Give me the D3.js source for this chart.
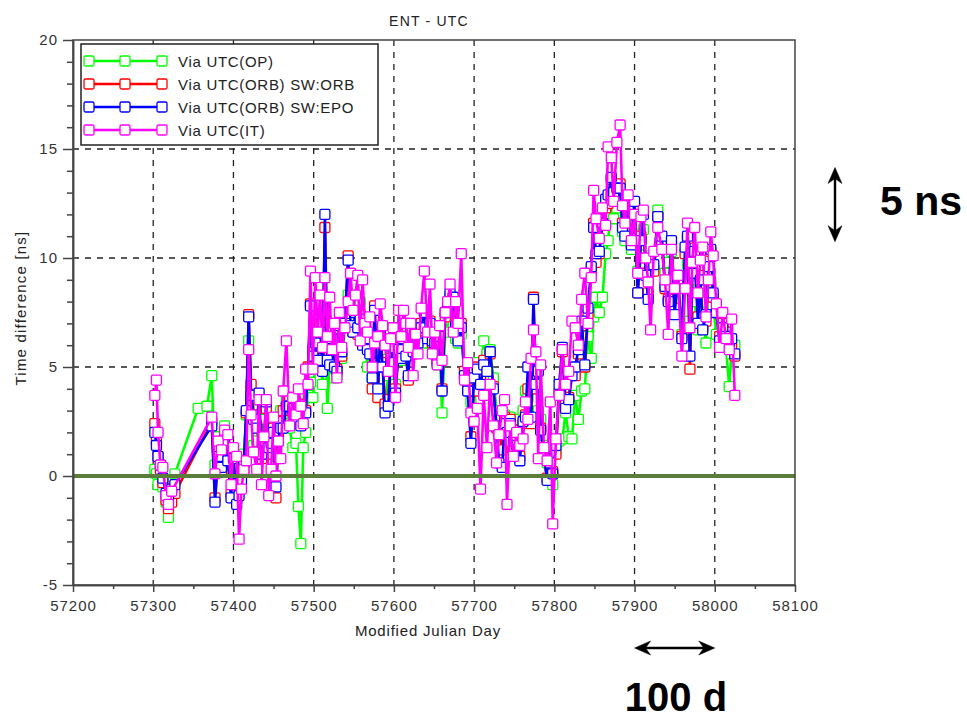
<!DOCTYPE html>
<html>
<head>
<meta charset="utf-8">
<script src="https://cdn.jsdelivr.net/npm/d3@7"></script>
<style>
  body { margin: 0; background: #fff; }
  text { font-family: "Liberation Sans", Arial, sans-serif; }
</style>
</head>
<body>
<script>
// Modified Julian Day of each measurement (shared by all four links)
const mjd = [
  57302, 57304, 57306, 57309, 57312, 57316, 57319, 57323, 57327, 57356,
  57367, 57373, 57377, 57381, 57385, 57389, 57393, 57397, 57400, 57404,
  57407, 57410, 57413, 57416, 57419, 57422, 57425, 57429, 57432, 57435,
  57438, 57441, 57444, 57447, 57450, 57453, 57456, 57459, 57462, 57466,
  57470, 57474, 57478, 57481, 57484, 57487, 57490, 57493, 57496, 57499,
  57502, 57505, 57508, 57511, 57514, 57517, 57520, 57523, 57526, 57529,
  57532, 57535, 57539, 57543, 57546, 57549, 57552, 57555, 57558, 57561,
  57564, 57567, 57570, 57573, 57576, 57580, 57583, 57586, 57589, 57593,
  57596, 57599, 57602, 57606, 57609, 57612, 57615, 57618, 57621, 57624,
  57627, 57630, 57634, 57638, 57642, 57645, 57648, 57651, 57654, 57657,
  57660, 57664, 57667, 57670, 57674, 57677, 57680, 57684, 57688, 57692,
  57696, 57700, 57704, 57708, 57712, 57716, 57720, 57724, 57728, 57731,
  57735, 57738, 57741, 57745, 57749, 57753, 57757, 57761, 57764, 57767,
  57771, 57774, 57777, 57780, 57783, 57787, 57791, 57795, 57798, 57802,
  57806, 57810, 57814, 57818, 57822, 57826, 57830, 57834, 57838, 57842,
  57846, 57849, 57852, 57856, 57860, 57864, 57867, 57871, 57874, 57878,
  57882, 57885, 57888, 57892, 57896, 57900, 57904, 57908, 57911, 57914,
  57917, 57920, 57924, 57929, 57934, 57938, 57942, 57946, 57950, 57954,
  57959, 57963, 57966, 57969, 57972, 57975, 57979, 57982, 57985, 57989,
  57992, 57995, 57998, 58002, 58006, 58010, 58014, 58018, 58021, 58025
];

// Time difference [ns], one value per mjd (null = no point)
const viaOP = [
  0.3, 0.1, -0.4, 0.5, -0.5, -1.2, -1.9, -0.8, 0.1, 3.1,
  3.2, 4.6, 0.5, 1.8, 1.0, 2.3, 0.6, 0.3, 1.2, -0.5,
  0.4, 0.3, 1.0, 2.8, 6.2, 3.6, 1.4, 1.6, 3.1, 2.6,
  1.4, 3.3, 2.2, 1.5, 1.8, 0.9, 2.6, 3.0, 2.4, 3.5,
  2.2, 1.3, 1.5, -1.4, -3.1, 1.3, 2.0, 3.7, 4.3, 3.6,
  5.0, 6.2, 5.6, 4.2, 7.5, 3.1, 5.2, 5.7, 4.5, 4.6,
  6.5, 5.4, 6.9, 8.3, 7.5, 6.8, 7.7, 7.2, 8.0, 6.3,
  6.6, 5.0, 5.7, 4.5, 5.2, 4.0, 5.8, 5.0, 3.2, 4.6,
  5.1, 5.6, 4.2, 5.7, 5.3, 6.0, 5.5, 5.8, 6.6, 5.9,
  6.5, 6.0, 6.6, 6.8, 6.1, 6.8, 6.0, 6.3, 5.1, 6.1,
  2.9, 6.6, 7.2, 7.6, 7.0, 6.3, 6.1, 6.5, 4.6, 4.2,
  3.4, 4.1, 5.2, 4.6, 6.2, 5.6, 5.8, 4.5, 3.0, 2.6,
  2.0, 2.8, 2.2, 2.7, 2.5, 2.6, 1.8, 3.0, 3.9, 3.6,
  2.6, 5.0, 4.5, 3.0, 2.6, 1.4, 0.6, 0.9, -0.4, 1.2,
  1.6, 1.7, 2.9, 1.8, 1.7, 3.7, 2.6, 3.9, 4.0, 6.4,
  5.4, 7.3, 8.2, 7.5, 8.2, 10.2, 10.8, 12.5, 11.8, 12.3,
  12.7, 11.2, 10.8, 11.5, 10.4, 11.1, 9.4, 10.6, 11.3, 9.6,
  9.0, 10.1, 9.5, 12.2, 10.6, 9.3, 9.8, 10.3, 8.7, 8.6,
  6.5, 8.8, 9.7, 7.1, 9.0, 8.0, 6.7, 8.6, 7.5, 6.1,
  8.4, 8.9, 7.8, 6.5, 6.0, 6.4, 5.9, 4.1, 5.6, 6.0
];

const viaORB_ORB = [
  2.4, 1.6, 0.9, 0.3, -0.3, -1.1, -1.5, -1.2, -0.8, null,
  null, 2.5, -1.0, 1.2, 0.2, 1.8, 0.7, -0.8, 0.9, -1.1,
  -0.6, 0.1, 0.3, 2.9, 7.4, 4.2, 2.8, 2.3, 3.5, 0.8,
  1.1, 3.1, 1.0, 1.6, 2.2, -1.0, 1.8, 2.5, 3.0, 3.2,
  3.6, 3.0, 2.6, 3.3, 2.4, 2.9, 3.0, 5.0, 7.9, 5.8,
  6.3, 5.4, 7.0, 5.0, 11.4, 5.5, 5.5, 6.3, 5.2, 4.9,
  7.1, 5.5, 7.3, 10.1, 7.2, 6.6, 7.6, 6.5, 7.4, 6.1,
  6.4, 6.2, 5.9, 4.0, 7.8, 3.6, 6.5, 5.2, 3.3, 3.5,
  5.4, 6.0, 4.0, 5.9, 5.6, 6.4, 5.5, 4.4, 6.7, 5.6,
  6.3, 6.2, 7.0, 7.6, 6.4, 7.1, 6.1, 6.0, 5.3, 6.5,
  4.0, 7.3, 7.6, 8.2, 7.8, 6.8, 6.3, 7.0, 4.8, 4.0,
  1.8, 3.9, 5.0, 4.4, 5.3, 4.9, 5.6, 4.1, 2.2, 2.2,
  1.2, 2.7, 2.0, 2.6, 2.1, 1.6, 0.9, 2.4, 2.8, 4.0,
  2.4, 8.2, 4.0, 5.0, 2.2, 0.9, -0.1, 0.4, 0.2, 1.0,
  3.8, 5.7, 3.5, 3.6, 4.8, 4.6, 5.6, 6.9, 5.0, 7.4,
  9.4, 11.6, 9.8, 10.2, 11.6, 12.3, 12.5, 13.6, 12.9, 13.1,
  13.4, 11.6, 11.2, 12.2, 10.9, 12.4, 8.4, 11.0, 12.1, 9.3,
  8.4, 9.9, 9.4, 11.9, 10.8, 8.6, 8.1, 10.6, 7.7, 9.0,
  6.4, 10.2, 10.9, 4.9, 9.5, 10.0, 7.3, 9.2, 6.8, 7.1,
  9.4, 10.3, 8.2, 7.5, 6.4, 7.0, 6.6, 6.2, 6.0, 5.5
];

const viaORB_EPO = [
  2.0, 1.4, 0.9, 0.5, -0.1, -0.8, -1.1, -0.6, -0.4, null,
  null, 2.3, -1.2, 0.9, 0.4, 1.6, 0.7, -1.0, 0.8, -1.3,
  -0.9, -0.2, 0.6, 3.0, 7.3, 3.7, 2.6, 2.2, 3.8, 1.0,
  1.6, 3.4, 1.3, 1.5, 2.0, -0.5, 1.6, 2.2, 2.2, 3.2,
  3.2, 3.1, 2.4, 3.0, 2.3, 2.9, 2.9, 4.9, 7.8, 5.5,
  6.1, 5.3, 6.6, 4.8, 12.0, 5.3, 5.1, 6.3, 5.0, 4.8,
  6.9, 5.7, 7.0, 9.9, 6.9, 6.6, 7.5, 6.8, 7.2, 6.0,
  6.3, 5.8, 5.6, 4.5, 7.6, 4.0, 6.4, 5.0, 2.9, 3.2,
  5.2, 5.9, 3.8, 5.8, 5.4, 6.3, 5.5, 4.6, 6.6, 5.7,
  6.0, 6.1, 6.8, 7.5, 6.3, 7.0, 6.2, 6.1, 5.2, 6.4,
  3.9, 7.5, 7.8, 8.4, 8.2, 6.9, 6.2, 6.8, 4.6, 3.9,
  1.5, 4.5, 4.9, 4.2, 5.1, 4.8, 5.7, 4.0, 2.3, 0.6,
  0.4, 2.4, 2.0, 2.4, 1.6, 1.4, 0.7, 2.5, 2.7, 5.0,
  2.7, 8.1, 4.2, 4.8, 2.1, 1.0, -0.2, 0.6, 0.1, 1.4,
  4.2, 5.9, 3.1, 3.5, 4.6, 5.0, 5.8, 7.1, 5.1, 7.7,
  9.6, 11.4, 10.2, 10.3, 11.6, 12.7, 12.9, 13.7, 13.0, 13.2,
  13.2, 11.4, 11.0, 12.4, 10.6, 12.6, 8.4, 10.8, 12.0, 9.2,
  8.1, 9.7, 9.7, 11.9, 11.0, 8.7, 8.0, 10.8, 7.4, 9.2,
  6.3, 10.5, 11.0, 5.5, 9.3, 10.3, 7.0, 9.0, 6.7, 7.4,
  9.6, 10.4, 8.4, 7.5, 6.2, 6.8, 6.4, 5.9, 6.3, 5.6
];

const viaIT = [
  3.7, 4.4, 2.0, 0.5, 0.4, -0.9, -1.3, -0.7, null, null,
  null, 2.7, 0.1, 1.6, 1.2, 2.1, 1.9, -0.4, 1.3, 0.9,
  -2.9, -0.6, 0.3, 0.7, 5.8, 2.8, 1.1, 0.3, 3.5, -0.4,
  1.8, 3.5, -0.9, 0.3, 2.7, 0.0, 1.6, 0.8, 3.9, 6.2,
  2.3, 3.6, 2.8, 4.0, 3.2, 2.4, 4.9, 4.2, 9.4, 4.9,
  9.1, 6.6, 8.3, 5.9, 9.1, 6.4, 8.2, 5.8, 7.0, 4.5,
  7.5, 5.9, 6.8, 8.0, 9.3, 7.6, 8.3, 9.2, 6.2, 9.0,
  7.0, 6.6, 7.3, 5.0, 6.1, 6.4, 7.9, 6.9, 6.0, 4.8,
  6.3, 6.8, 3.6, 7.6, 6.4, 7.6, 7.0, 5.9, 7.0, 4.6,
  6.5, 5.6, 7.7, 9.4, 6.6, 8.8, 5.6, 6.6, 5.1, 6.9,
  5.3, 7.5, 8.0, 8.8, 6.6, 8.0, 7.0, 10.2, 4.4, 5.2,
  2.9, 2.5, 3.1, -0.6, 3.7, 1.3, 4.2, 2.3, 0.6, 1.9,
  3.0, 3.5, -1.3, 2.3, 0.9, 2.0, 1.4, 1.7, 3.4, 2.6,
  5.4, 6.7, 5.7, 0.8, 5.1, 1.3, 0.7, 3.4, -2.2, 1.7,
  3.7, 5.8, 4.2, 4.8, 7.1, 6.8, 6.0, 8.1, 9.3, 7.0,
  9.1, 13.1, 11.8, 10.9, 12.3, 11.5, 15.1, 14.6, 12.6, 15.3,
  16.1, 12.4, 11.6, 12.9, 10.8, 12.0, 9.3, 11.9, 12.2, 10.0,
  8.9, 6.7, 10.3, 11.4, 10.4, 9.0, 6.5, 10.4, 8.6, 9.2,
  5.5, 8.6, 11.6, 6.8, 9.8, 11.4, 8.4, 9.9, 10.5, 7.3,
  9.0, 11.2, 10.1, 7.9, 5.9, 7.5, 6.3, 5.8, 7.2, 3.7
];

const seriesNames = ["Via UTC(OP)", "Via UTC(ORB) SW:ORB", "Via UTC(ORB) SW:EPO", "Via UTC(IT)"];
const seriesColors = ["#00ff00", "#ff0000", "#0000ff", "#ff00ff"];
const seriesValues = [viaOP, viaORB_ORB, viaORB_EPO, viaIT];

const xTicks = [57200, 57300, 57400, 57500, 57600, 57700, 57800, 57900, 58000, 58100];
const xMinor = [57250, 57350, 57450, 57550, 57650, 57750, 57850, 57950, 58050];
const yTicks = [-5, 0, 5, 10, 15, 20];
const yMinor = d3.range(-4, 20).filter(v => v % 5 !== 0);

const width = 967;
const height = 720;
const plot = { left: 73, right: 795, top: 40, bottom: 585 };

const x = d3.scaleLinear().domain([57200, 58100]).range([plot.left, plot.right]);
const y = d3.scaleLinear().domain([-5, 20]).range([plot.bottom, plot.top]);

const svg = d3.select("body").append("svg")
    .attr("width", width)
    .attr("height", height)
    .attr("viewBox", [0, 0, width, height]);

svg.append("defs").append("clipPath")
    .attr("id", "plotClip")
  .append("rect")
    .attr("x", plot.left)
    .attr("y", plot.top)
    .attr("width", plot.right - plot.left)
    .attr("height", plot.bottom - plot.top);

// Dashed grid at the major ticks
const grid = svg.append("g")
    .attr("stroke", "#222")
    .attr("stroke-width", 1.3)
    .attr("stroke-dasharray", "6,6");

grid.selectAll("line.gx")
  .data(xTicks.slice(1, -1))
  .join("line")
    .attr("x1", d => x(d)).attr("x2", d => x(d))
    .attr("y1", plot.top).attr("y2", plot.bottom);

grid.selectAll("line.gy")
  .data(yTicks.slice(1, -1))
  .join("line")
    .attr("x1", plot.left).attr("x2", plot.right)
    .attr("y1", d => y(d)).attr("y2", d => y(d));

// Series: line first, then square markers, drawn in legend order
const chart = svg.append("g").attr("clip-path", "url(#plotClip)");

const line = d3.line()
    .x(d => x(d.mjd))
    .y(d => y(d.v));

seriesValues.forEach((vals, i) => {
  const pts = mjd.map((m, j) => ({ mjd: m, v: vals[j] })).filter(d => d.v !== null);
  const g = chart.append("g");

  g.append("path")
      .datum(pts)
      .attr("fill", "none")
      .attr("stroke", seriesColors[i])
      .attr("stroke-width", 2.6)
      .attr("stroke-linejoin", "round")
      .attr("d", line);

  g.selectAll("rect")
    .data(pts)
    .join("rect")
      .attr("x", d => x(d.mjd) - 5)
      .attr("y", d => y(d.v) - 5)
      .attr("width", 10)
      .attr("height", 10)
      .attr("rx", 1.5)
      .attr("fill", "#fff")
      .attr("stroke", seriesColors[i])
      .attr("stroke-width", 1.3);
});

// Zero reference line
svg.append("line")
    .attr("x1", plot.left).attr("x2", plot.right)
    .attr("y1", y(0)).attr("y2", y(0))
    .attr("stroke", "#5a7d3a")
    .attr("stroke-width", 4);

// Frame
svg.append("rect")
    .attr("x", plot.left).attr("y", plot.top)
    .attr("width", plot.right - plot.left)
    .attr("height", plot.bottom - plot.top)
    .attr("fill", "none")
    .attr("stroke", "#444")
    .attr("stroke-width", 1.5);

// Axes (major and minor ticks)
function styleAxis(g) {
  g.select(".domain").attr("stroke", "#444").attr("stroke-width", 1.5);
  g.selectAll(".tick line").attr("stroke", "#444").attr("stroke-width", 1.5);
  g.selectAll(".tick text")
      .attr("fill", "#333")
      .attr("font-size", 15)
      .attr("letter-spacing", 1)
      .style("font-family", "'Liberation Sans', Arial, sans-serif");
}

svg.append("g")
    .attr("transform", `translate(0,${plot.bottom})`)
    .call(d3.axisBottom(x).tickValues(xTicks).tickFormat(d => String(d)).tickSize(7).tickPadding(8).tickSizeOuter(0))
    .call(styleAxis);

svg.append("g")
    .attr("transform", `translate(0,${plot.bottom})`)
    .call(d3.axisBottom(x).tickValues(xMinor).tickFormat("").tickSize(4).tickSizeOuter(0))
    .call(styleAxis);

svg.append("g")
    .attr("transform", `translate(${plot.left},0)`)
    .call(d3.axisLeft(y).tickValues(yTicks).tickFormat(d => String(d)).tickSize(10).tickPadding(5).tickSizeOuter(0))
    .call(styleAxis);

svg.append("g")
    .attr("transform", `translate(${plot.left},0)`)
    .call(d3.axisLeft(y).tickValues(yMinor).tickFormat("").tickSize(6).tickSizeOuter(0))
    .call(styleAxis);

// Title and axis labels
svg.append("text")
    .attr("x", 429).attr("y", 26)
    .attr("text-anchor", "middle")
    .attr("font-size", 14)
    .attr("letter-spacing", 1.2)
    .attr("fill", "#222")
    .text("ENT - UTC");

svg.append("text")
    .attr("x", 428).attr("y", 636)
    .attr("text-anchor", "middle")
    .attr("font-size", 15)
    .attr("letter-spacing", 0.8)
    .attr("fill", "#222")
    .text("Modified Julian Day");

svg.append("text")
    .attr("transform", "translate(26,308) rotate(-90)")
    .attr("text-anchor", "middle")
    .attr("font-size", 15)
    .attr("letter-spacing", 1.2)
    .attr("fill", "#222")
    .text("Time difference [ns]");

// Legend
const legend = svg.append("g");
legend.append("rect")
    .attr("x", 81).attr("y", 44)
    .attr("width", 297).attr("height", 101)
    .attr("fill", "#fff")
    .attr("stroke", "#222")
    .attr("stroke-width", 1.5);

seriesNames.forEach((name, i) => {
  const ly = 61 + i * 23;
  legend.append("line")
      .attr("x1", 89).attr("x2", 162)
      .attr("y1", ly).attr("y2", ly)
      .attr("stroke", seriesColors[i])
      .attr("stroke-width", 2.6);
  legend.selectAll(null)
    .data([89, 125, 162])
    .join("rect")
      .attr("x", d => d - 5).attr("y", ly - 5)
      .attr("width", 10).attr("height", 10)
      .attr("rx", 1.5)
      .attr("fill", "#fff")
      .attr("stroke", seriesColors[i])
      .attr("stroke-width", 1.3);
  legend.append("text")
      .attr("x", 178).attr("y", ly + 6)
      .attr("font-size", 15)
      .attr("letter-spacing", 0.7)
      .attr("fill", "#222")
      .text(name);
});

// Scale annotations: 5 ns and 100 d
function arrowHead(x0, y0, dx, dy) {
  // tip at (x0,y0), pointing in direction (dx,dy)
  const px = -dy, py = dx;
  const L = 16, W = 7, N = 11;
  return `M${x0},${y0}` +
    `L${x0 - dx * L + px * W},${y0 - dy * L + py * W}` +
    `L${x0 - dx * N},${y0 - dy * N}` +
    `L${x0 - dx * L - px * W},${y0 - dy * L - py * W}Z`;
}

const ann = svg.append("g").attr("fill", "#000").attr("stroke", "#000");

const vTop = y(14.15), vBot = y(10.75);
ann.append("line")
    .attr("x1", 835).attr("x2", 835)
    .attr("y1", vTop + 8).attr("y2", vBot - 8)
    .attr("stroke-width", 2.4);
ann.append("path").attr("d", arrowHead(835, vTop, 0, -1)).attr("stroke-width", 0.5);
ann.append("path").attr("d", arrowHead(835, vBot, 0, 1)).attr("stroke-width", 0.5);

const hY = 648;
ann.append("line")
    .attr("x1", x(57900) + 8).attr("x2", x(58000) - 8)
    .attr("y1", hY).attr("y2", hY)
    .attr("stroke-width", 2.4);
ann.append("path").attr("d", arrowHead(x(57900), hY, -1, 0)).attr("stroke-width", 0.5);
ann.append("path").attr("d", arrowHead(x(58000), hY, 1, 0)).attr("stroke-width", 0.5);

svg.append("text")
    .attr("x", 880).attr("y", 215)
    .attr("font-size", 41)
    .attr("font-weight", "bold")
    .attr("fill", "#000")
    .text("5 ns");

svg.append("text")
    .attr("x", 676).attr("y", 711)
    .attr("text-anchor", "middle")
    .attr("font-size", 40)
    .attr("font-weight", "bold")
    .attr("fill", "#000")
    .text("100 d");
</script>
</body>
</html>
